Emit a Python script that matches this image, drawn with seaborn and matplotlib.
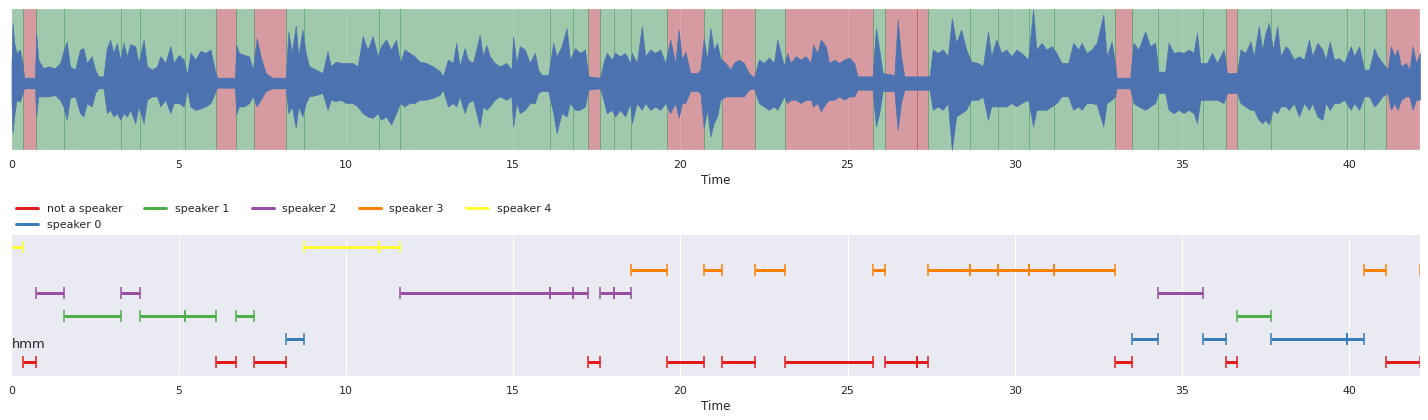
import numpy as np
import pandas as pd
import matplotlib
matplotlib.use("Agg")
import matplotlib.pyplot as plt
from matplotlib.lines import Line2D
import seaborn as sns

# ---------------- data ----------------
labels = ["not a speaker", "speaker 0", "speaker 1", "speaker 2", "speaker 3", "speaker 4"]

seg_not_speaker = [(0.35, 0.74), (6.12, 6.72), (7.26, 8.21), (17.25, 17.61), (19.61, 20.72),
                   (21.26, 22.24), (23.14, 25.77), (26.13, 27.09), (27.09, 27.42),
                   (33.01, 33.52), (36.33, 36.66), (41.11, 42.11)]
seg_speaker0 = [(8.21, 8.76), (33.52, 34.29), (35.62, 36.33), (37.67, 39.95), (39.95, 40.46)]
seg_speaker1 = [(1.58, 3.28), (3.85, 5.20), (5.20, 6.12), (6.72, 7.26), (36.66, 37.67)]
seg_speaker2 = [(0.74, 1.58), (3.28, 3.85), (11.63, 16.11), (16.11, 16.80), (16.80, 17.25),
                (17.61, 18.03), (18.03, 18.53), (34.29, 35.62)]
seg_speaker3 = [(18.53, 19.61), (20.72, 21.26), (22.24, 23.14), (25.77, 26.13), (27.42, 28.67),
                (28.67, 29.51), (29.51, 30.42), (30.42, 31.18), (31.18, 33.01), (40.46, 41.11),
                (42.11, 42.30)]
seg_speaker4 = [(0.0, 0.35), (8.76, 11.00), (11.00, 11.63)]

# waveform envelope (time s, upper amplitude, lower amplitude)
wave_t = [0.00, 0.03, 0.08, 0.15, 0.25, 0.33, 0.38, 0.70, 0.74, 0.80, 0.95, 1.10, 1.30, 1.45, 1.55,
          1.65, 1.75, 1.90, 2.05, 2.15, 2.25, 2.40, 2.50, 2.60, 2.75, 2.85, 2.95, 3.05, 3.15, 3.25,
          3.35, 3.45, 3.55, 3.70, 3.80, 3.95, 4.05, 4.20, 4.35, 4.45, 4.60, 4.75, 4.85, 5.00, 5.15,
          5.25, 5.35, 5.50, 5.65, 5.80, 5.95, 6.08, 6.15, 6.68, 6.72, 6.80, 6.95, 7.10, 7.22, 7.33,
          7.45, 7.60, 7.80, 8.20, 8.28, 8.38, 8.50, 8.58, 8.70, 8.80, 8.90, 9.10, 9.30, 9.45, 9.55,
          9.70, 9.85, 10.00, 10.20, 10.35, 10.50, 10.65, 10.80, 10.95, 11.05, 11.20, 11.35, 11.50,
          11.62, 11.75, 11.90, 12.05, 12.20, 12.40, 12.60, 12.80, 12.90, 13.05, 13.20, 13.30, 13.40,
          13.55, 13.65, 13.80, 14.00, 14.10, 14.20, 14.30, 14.45, 14.60, 14.80, 14.95, 15.00, 15.10,
          15.20, 15.35, 15.50, 15.65, 15.75, 15.85, 16.05, 16.20, 16.30, 16.45, 16.60, 16.70, 16.85,
          17.00, 17.15, 17.25, 17.60, 17.70, 17.80, 17.95, 18.05, 18.20, 18.35, 18.50, 18.55, 18.70,
          18.85, 18.95, 19.10, 19.25, 19.40, 19.55, 19.70, 19.85, 19.95, 20.05, 20.15, 20.30, 20.50,
          20.60, 20.70, 20.80, 20.90, 21.00, 21.10, 21.20, 21.35, 21.50, 21.60, 21.75, 21.90, 22.05,
          22.20, 22.35, 22.50, 22.65, 22.80, 22.90, 23.00, 23.10, 23.20, 23.30, 23.45, 23.60, 23.75,
          23.90, 23.97, 24.10, 24.20, 24.35, 24.45, 24.60, 24.75, 24.90, 25.05, 25.20, 25.30, 25.75,
          25.85, 25.95, 26.05, 26.40, 26.50, 26.60, 26.70, 27.45, 27.55, 27.70, 27.85, 28.00, 28.12,
          28.25, 28.40, 28.55, 28.70, 28.90, 29.05, 29.20, 29.30, 29.45, 29.60, 29.75, 29.90, 30.05,
          30.20, 30.40, 30.55, 30.65, 30.80, 30.95, 31.10, 31.25, 31.40, 31.60, 31.75, 31.90, 32.00,
          32.15, 32.30, 32.45, 32.65, 32.75, 32.90, 33.00, 33.05, 33.45, 33.55, 33.70, 33.90, 34.05,
          34.20, 34.30, 34.50, 34.60, 34.75, 34.90, 35.05, 35.20, 35.35, 35.45, 35.55, 35.75, 35.90,
          36.05, 36.25, 36.35, 36.65, 36.75, 36.90, 37.05, 37.15, 37.30, 37.40, 37.50, 37.60, 37.72,
          37.85, 37.95, 38.10, 38.20, 38.35, 38.50, 38.65, 38.80, 38.90, 39.05, 39.20, 39.30, 39.42,
          39.55, 39.70, 39.85, 40.05, 40.15, 40.30, 40.45, 40.60, 40.75, 40.85, 41.00, 41.15, 41.25,
          41.35, 41.45, 41.55, 41.70, 41.80, 41.90, 42.00, 42.12]
wave_hi = [0.30, 0.90, 0.60, 0.45, 0.50, 0.30, 0.08, 0.08, 0.75, 0.35, 0.22, 0.25, 0.22, 0.30, 0.47,
           0.62, 0.25, 0.20, 0.50, 0.52, 0.30, 0.40, 0.20, 0.10, 0.10, 0.52, 0.65, 0.45, 0.60, 0.35,
           0.60, 0.40, 0.58, 0.55, 0.30, 0.65, 0.25, 0.20, 0.25, 0.40, 0.30, 0.55, 0.30, 0.42, 0.35,
           0.12, 0.45, 0.35, 0.48, 0.45, 0.50, 0.20, 0.08, 0.08, 0.57, 0.45, 0.42, 0.40, 0.20, 0.67,
           0.40, 0.15, 0.08, 0.08, 0.77, 0.45, 0.86, 0.40, 0.80, 0.45, 0.25, 0.20, 0.15, 0.47, 0.25,
           0.32, 0.30, 0.30, 0.30, 0.25, 0.70, 0.50, 0.70, 0.40, 0.55, 0.65, 0.50, 0.65,
           0.30, 0.50, 0.45, 0.40, 0.32, 0.30, 0.25, 0.18, 0.10, 0.35, 0.30, 0.60, 0.25,
           0.52, 0.35, 0.30, 0.72, 0.40, 0.57, 0.40, 0.30, 0.25, 0.30, 0.20, 0.70, 0.30,
           0.55, 0.50, 0.30, 0.45, 0.20, 0.12, 0.12, 0.60, 0.40, 0.55, 0.82, 0.35, 0.52,
           0.45, 0.50, 0.10, 0.08, 0.30, 0.45, 0.35, 0.45, 0.40, 0.45, 0.30, 0.45, 0.30,
           0.85, 0.40, 0.50, 0.45, 0.50, 0.30, 0.65, 0.30, 0.80, 0.35, 0.47, 0.15, 0.15,
           0.20, 0.67, 0.35, 0.82, 0.50, 0.60, 0.37, 0.30, 0.20, 0.30, 0.35, 0.30, 0.15,
           0.08, 0.35, 0.30, 0.38, 0.30, 0.65, 0.45, 0.25, 0.45, 0.30, 0.40, 0.35, 0.40,
           0.30, 0.57, 0.45, 0.65, 0.55, 0.30, 0.35, 0.30, 0.35, 0.38, 0.30, 0.10, 0.10,
           0.82, 0.50, 0.15, 0.12, 0.95, 0.40, 0.10, 0.10, 0.50, 0.45, 0.50, 0.40, 0.97,
           0.60, 0.80, 0.50, 0.32, 0.30, 0.25, 0.77, 0.40, 0.65, 0.45, 0.50, 0.40, 0.50,
           0.45, 0.35, 1.10, 0.50, 0.60, 0.50, 0.55, 0.45, 0.30, 0.30, 0.60, 0.50, 0.60,
           0.45, 0.50, 0.60, 1.02, 0.40, 0.62, 0.30, 0.08, 0.08, 0.60, 0.50, 0.77, 0.55,
           0.60, 0.17, 0.17, 0.60, 0.45, 0.47, 0.45, 0.50, 0.45, 0.75, 0.30, 0.30, 0.45,
           0.30, 0.50, 0.15, 0.15, 0.50, 0.45, 0.62, 0.40, 0.85, 0.50, 0.75, 0.90, 0.50,
           0.85, 0.40, 0.55, 0.50, 0.35, 0.40, 0.35, 0.65, 0.40, 0.60, 0.50, 0.35, 0.62,
           0.35, 0.37, 0.30, 0.55, 0.40, 0.55, 0.20, 0.20, 0.52, 0.40, 0.30, 0.20, 0.55,
           0.40, 0.50, 0.25, 0.30, 0.20, 0.55, 0.30, 0.45]
wave_lo = [0.30, 0.75, 0.50, 0.25, 0.28, 0.15, 0.08, 0.08, 0.50, 0.20, 0.20, 0.20, 0.18, 0.25, 0.35,
           0.55, 0.22, 0.20, 0.45, 0.50, 0.30, 0.35, 0.15, 0.08, 0.08, 0.45, 0.40, 0.50, 0.45, 0.55,
           0.45, 0.50, 0.40, 0.60, 0.35, 0.60, 0.25, 0.20, 0.20, 0.35, 0.25, 0.45, 0.30, 0.30, 0.35,
           0.10, 0.35, 0.40, 0.38, 0.35, 0.30, 0.15, 0.07, 0.07, 0.47, 0.35, 0.35, 0.30, 0.20, 0.35,
           0.25, 0.12, 0.08, 0.08, 0.45, 0.35, 0.67, 0.35, 0.50, 0.30, 0.20, 0.18, 0.15, 0.40, 0.25,
           0.27, 0.25, 0.30, 0.30, 0.35, 0.45, 0.50, 0.52, 0.45, 0.55, 0.50, 0.62, 0.45,
           0.30, 0.35, 0.30, 0.30, 0.25, 0.25, 0.22, 0.18, 0.10, 0.35, 0.30, 0.35, 0.20,
           0.45, 0.30, 0.25, 0.65, 0.35, 0.40, 0.35, 0.25, 0.20, 0.25, 0.20, 0.65, 0.30,
           0.45, 0.40, 0.30, 0.30, 0.15, 0.12, 0.12, 0.45, 0.75, 0.45, 0.50, 0.30, 0.40,
           0.40, 0.35, 0.10, 0.08, 0.25, 0.45, 0.40, 0.50, 0.40, 0.50, 0.30, 0.60, 0.30,
           0.40, 0.30, 0.40, 0.35, 0.40, 0.30, 0.45, 0.30, 0.52, 0.30, 0.30, 0.12, 0.12,
           0.15, 0.67, 0.40, 0.80, 0.60, 0.50, 0.25, 0.20, 0.20, 0.20, 0.20, 0.20, 0.10,
           0.08, 0.30, 0.35, 0.40, 0.35, 0.40, 0.30, 0.20, 0.30, 0.25, 0.25, 0.30, 0.25,
           0.25, 0.35, 0.30, 0.42, 0.30, 0.25, 0.25, 0.20, 0.25, 0.20, 0.20, 0.10, 0.10,
           0.65, 0.45, 0.12, 0.12, 0.70, 0.30, 0.10, 0.10, 0.40, 0.35, 0.40, 0.30, 1.00,
           0.50, 0.45, 0.40, 0.25, 0.25, 0.20, 0.55, 0.35, 0.35, 0.35, 0.35, 0.30, 0.35,
           0.30, 0.25, 0.65, 0.40, 0.40, 0.40, 0.35, 0.30, 0.20, 0.20, 0.40, 0.35, 0.40,
           0.30, 0.30, 0.32, 0.65, 0.30, 0.25, 0.20, 0.08, 0.08, 0.30, 0.35, 0.40, 0.35,
           0.30, 0.15, 0.15, 0.40, 0.45, 0.40, 0.45, 0.40, 0.45, 0.60, 0.25, 0.25, 0.25,
           0.25, 0.30, 0.15, 0.15, 0.30, 0.35, 0.40, 0.40, 0.55, 0.60, 0.55, 0.62, 0.40,
           0.45, 0.35, 0.35, 0.40, 0.30, 0.50, 0.30, 0.40, 0.30, 0.50, 0.55, 0.30, 0.40,
           0.30, 0.30, 0.25, 0.40, 0.30, 0.40, 0.20, 0.20, 0.35, 0.30, 0.20, 0.15, 0.40,
           0.30, 0.40, 0.25, 0.20, 0.20, 0.40, 0.25, 0.25]

x_ticks = [0, 5, 10, 15, 20, 25, 30, 35, 40]
annotation_text = "hmm"

# ---------------- style ----------------
sns.set_theme(style="darkgrid", context="notebook")
plt.rcParams["font.family"] = ["DejaVu Sans"]

DPI = 72
fig = plt.figure(figsize=(1428 / DPI, 420 / DPI), dpi=DPI)
W, H = 1428.0, 420.0
ax1 = fig.add_axes([11.5 / W, 1 - 150 / H, 1408.5 / W, 142 / H])
ax2 = fig.add_axes([11.5 / W, 1 - 376 / H, 1408.5 / W, 142 / H])

deep = sns.color_palette("deep")
set1 = sns.color_palette("Set1")
xmax = 42.12

all_segs = [seg_not_speaker, seg_speaker0, seg_speaker1, seg_speaker2, seg_speaker3, seg_speaker4]

# ---------------- top: waveform + spans ----------------
for k, segs in enumerate(all_segs):
    col = deep[3] if k == 0 else deep[2]
    for s, e in segs:
        ax1.axvspan(s, e, color=col, alpha=0.5, lw=1.0)

wt = np.array(wave_t)
ax1.fill_between(wt, -np.array(wave_lo), np.array(wave_hi), color=deep[0], lw=0.6,
                 edgecolor=deep[0], zorder=3)
ax1.set_xlim(0, xmax)
ax1.set_ylim(-1.0, 1.12)
ax1.set_yticks([])
ax1.set_xticks(x_ticks)
ax1.set_xlabel("Time")

# ---------------- bottom: segments ----------------
rows = []
uid = 0
for k, segs in enumerate(all_segs):
    for s, e in segs:
        rows.append({"time": s, "row": k + 1, "label": labels[k], "seg": uid})
        rows.append({"time": e, "row": k + 1, "label": labels[k], "seg": uid})
        uid += 1
df = pd.DataFrame(rows)
pal = dict(zip(labels, set1[:6]))
sns.lineplot(data=df, x="time", y="row", hue="label", units="seg", estimator=None,
             palette=pal, hue_order=labels, lw=3, marker="|", ms=12, mew=1.5,
             sort=False, legend=False, ax=ax2)
for ln in ax2.lines:
    ln.set_markeredgecolor(ln.get_color())
    ln.set_solid_capstyle("butt")

ax2.text(0, 1.6, annotation_text, fontsize=13, ha="left", va="baseline", color="#262626")
ax2.set_xlim(0, xmax)
ax2.set_ylim(0.4, 6.57)
ax2.set_yticks([])
ax2.set_ylabel("")
ax2.set_xticks(x_ticks)
ax2.set_xlabel("Time")

handles = [Line2D([0], [0], color=set1[i], lw=3) for i in range(6)]
ax2.legend(handles, labels, ncol=5, loc="lower left", bbox_to_anchor=(0, 1.0),
           borderaxespad=0, frameon=False, fontsize=11)

fig.savefig("out.png", dpi=DPI)
